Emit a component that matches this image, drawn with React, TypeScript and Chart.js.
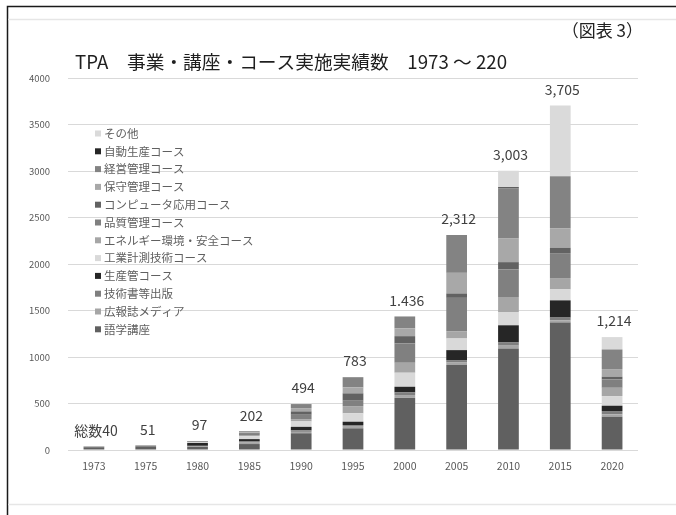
import React, { useEffect, useRef } from "react";
import { Chart, registerables } from "chart.js";

Chart.register(...registerables);

const years = ["1973", "1975", "1980", "1985", "1990", "1995", "2000", "2005", "2010", "2015", "2020"];

const gogaku = [30, 40, 35, 64, 180, 233, 563, 913, 1092, 1370, 358];
const kohoshi = [5, 5, 5, 16, 15, 18, 28, 27, 30, 25, 25];
const gijutsusho = [5, 6, 5, 16, 16, 17, 28, 27, 34, 29, 36];
const seisankan = [0, 0, 30, 21, 38, 36, 61, 107, 185, 185, 57];
const kogyokeisoku = [0, 0, 5, 32, 58, 90, 151, 125, 143, 118, 104];
const energy = [0, 0, 5, 12, 25, 78, 107, 79, 161, 122, 89];
const hinshitsu = [0, 0, 7, 12, 47, 58, 208, 358, 297, 268, 90];
const computer = [0, 0, 5, 8, 36, 79, 78, 47, 78, 58, 29];
const hoshu = [0, 0, 0, 8, 35, 64, 83, 222, 258, 210, 82];
const keiei = [0, 0, 0, 13, 44, 110, 129, 407, 536, 558, 211];
const jidoseisan = [0, 0, 0, 0, 0, 0, 0, 0, 11, 0, 0];
const sonota = [0, 0, 0, 0, 0, 0, 0, 0, 178, 762, 133];

const totalLabels = ["総数40", "51", "97", "202", "494", "783", "1.436", "2,312", "3,003", "3,705", "1,214"];

const seriesNames = [
  "語学講座",
  "広報誌メディア",
  "技術書等出版",
  "生産管コース",
  "工業計測技術コース",
  "エネルギー環境・安全コース",
  "品質管理コース",
  "コンピュータ応用コース",
  "保守管理コース",
  "経営管理コース",
  "自動生産コース",
  "その他",
];
const seriesData = [gogaku, kohoshi, gijutsusho, seisankan, kogyokeisoku, energy, hinshitsu, computer, hoshu, keiei, jidoseisan, sonota];
const seriesColors = [
  "#606060",
  "#a6a6a6",
  "#7f7f7f",
  "#262626",
  "#d9d9d9",
  "#a6a6a6",
  "#808080",
  "#626262",
  "#a8a8a8",
  "#838383",
  "#262626",
  "#dadada",
];

const titleText = "TPA　事業・講座・コース実施実績数　1973 ～ 220";
const figText = "（図表 3）";

const FONT = "'Noto Sans CJK JP', 'Noto Sans', sans-serif";

const decoPlugin = {
  id: "deco",
  beforeDraw(chart: any) {
    const ctx = chart.ctx;
    ctx.save();
    ctx.fillStyle = "#ffffff";
    ctx.fillRect(0, 0, chart.width, chart.height);
    // frame
    ctx.strokeStyle = "#1a1a1a";
    ctx.lineWidth = 1.5;
    ctx.beginPath();
    ctx.moveTo(7.5, chart.height);
    ctx.lineTo(7.5, 6.5);
    ctx.lineTo(chart.width, 6.5);
    ctx.stroke();
    ctx.strokeStyle = "#e6e6e6";
    ctx.lineWidth = 1.5;
    ctx.beginPath();
    ctx.moveTo(8, 19.5);
    ctx.lineTo(chart.width, 19.5);
    ctx.moveTo(8, 504.5);
    ctx.lineTo(chart.width, 504.5);
    ctx.stroke();
    ctx.restore();
  },
  afterDraw(chart: any) {
    const ctx = chart.ctx;
    ctx.save();
    // figure number
    ctx.fillStyle = "#222222";
    ctx.font = `17px ${FONT}`;
    ctx.textAlign = "right";
    ctx.textBaseline = "middle";
    ctx.fillText(figText, 643, 31);
    // title
    ctx.fillStyle = "#1f1f1f";
    ctx.font = `18.7px ${FONT}`;
    ctx.textAlign = "left";
    ctx.fillText(titleText, 75, 62);
    // legend (reversed order)
    ctx.font = `11.5px ${FONT}`;
    const n = chart.data.datasets.length;
    for (let i = 0; i < n; i++) {
      const ds = chart.data.datasets[n - 1 - i];
      const y = 133.5 + i * 17.8;
      ctx.fillStyle = ds.backgroundColor;
      ctx.fillRect(95, y - 3, 6, 6);
      ctx.fillStyle = "#606060";
      ctx.fillText(ds.label, 104, y);
    }
    // totals
    const yScale = chart.scales.y;
    const xScale = chart.scales.x;
    ctx.font = `14px ${FONT}`;
    ctx.textAlign = "center";
    ctx.fillStyle = "#404040";
    for (let j = 0; j < years.length; j++) {
      let sum = 0;
      for (const s of seriesData) sum += s[j];
      const x = xScale.getPixelForValue(j) + 2;
      const y = yScale.getPixelForValue(sum) - 16;
      ctx.fillText(totalLabels[j], x, y);
    }
    ctx.restore();
  },
};

export default function App() {
  const ref = useRef<HTMLCanvasElement | null>(null);
  useEffect(() => {
    if (!ref.current) return;
    const chart = new Chart(ref.current, {
      type: "bar",
      data: {
        labels: years,
        datasets: seriesNames.map((name, i) => ({
          label: name,
          data: seriesData[i],
          backgroundColor: seriesColors[i],
          borderWidth: 0,
          barPercentage: 0.8,
          categoryPercentage: 0.5,
        })),
      },
      options: {
        animation: false,
        responsive: false,
        maintainAspectRatio: false,
        layout: { padding: { top: 78, right: 38, bottom: 35, left: 0 } },
        plugins: {
          legend: { display: false },
          title: { display: false },
          tooltip: { enabled: false },
        },
        scales: {
          x: {
            stacked: true,
            grid: { display: false, drawTicks: false },
            border: { display: false },
            ticks: {
              color: "#595959",
              font: { family: FONT, size: 10.5 },
              padding: 10,
            },
            afterFit(scale: any) {
              scale.height = 30;
            },
          },
          y: {
            stacked: true,
            min: 0,
            max: 4000,
            grid: { color: "#d9d9d9", lineWidth: 1, drawTicks: false },
            border: { display: false },
            ticks: {
              stepSize: 500,
              color: "#595959",
              font: { family: FONT, size: 9.5 },
              padding: 18,
              callback: (v: any) => String(v),
            },
            afterFit(scale: any) {
              scale.width = 68;
            },
          },
        },
      },
      plugins: [decoPlugin],
    });
    return () => chart.destroy();
  }, []);
  return (
    <div style={{ position: "absolute", left: 0, top: 0, width: 676, height: 515, background: "#fff" }}>
      <canvas ref={ref} width={676} height={515} style={{ display: "block", width: 676, height: 515 }} />
    </div>
  );
}
